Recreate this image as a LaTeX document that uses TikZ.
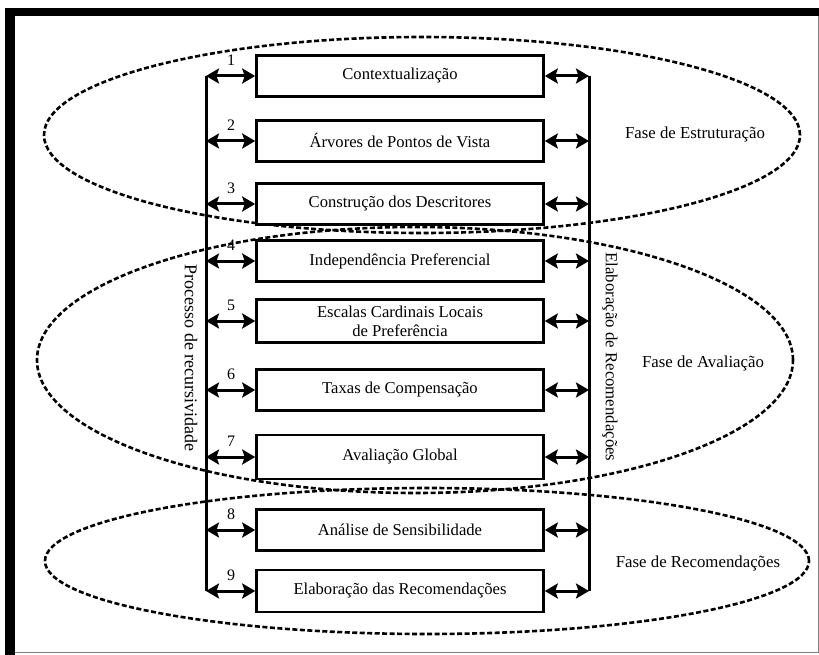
\documentclass[tikz,border=0pt]{standalone}
\usepackage{fontspec}
\setmainfont{Liberation Serif}
\usetikzlibrary{arrows.meta,shapes.geometric}
\begin{document}
\begin{tikzpicture}[x=1pt,y=-1pt,
  stepbox/.style={draw,line width=2.6pt,minimum width=287pt,minimum height=41pt,
    inner sep=0pt,font=\fontsize{16.6}{19}\selectfont,align=center},
  phase/.style={draw,ellipse,inner sep=0pt,line width=2.6pt,
    dash pattern=on 5pt off 2.5pt},
  phaselabel/.style={font=\fontsize{16.8}{19}\selectfont},
  link/.style={line width=3pt,{Stealth[length=13pt,width=15pt,inset=2.5pt]}-{Stealth[length=13pt,width=15pt,inset=2.5pt]}},
  rail/.style={line width=3pt},
  num/.style={font=\fontsize{16}{18}\selectfont,inner sep=0pt},
  sidetext/.style={rotate=-90,font=\fontsize{16.8}{19}\selectfont}]
\useasboundingbox (0,0) rectangle (819,655);
% frame
\fill[black] (5,8) rectangle (819,16);
\fill[black] (5,8) rectangle (15,655);
\draw[gray,line width=1pt] (15,652) -- (819,652);
\draw[gray,line width=1pt] (818,16) -- (818,652);

% phase ellipses
\node[phase,minimum width=756pt,minimum height=196pt] (e1) at (422,135) {};
\node[phase,minimum width=756pt,minimum height=266pt] (e2) at (415,360) {};
\node[phase,minimum width=764pt,minimum height=146pt] (e3) at (427,561) {};

\node[phaselabel] (f1) at (695,134) {Fase de Estruturação};
\node[phaselabel] (f2) at (703,363) {Fase de Avaliação};
\node[phaselabel] (f3) at (698,563) {Fase de Recomendações};

% steps
\node[stepbox,fill=white] (b1) at (400,76) {Contextualização};
\node[stepbox,fill=white] (b2) at (400,141) {Árvores de Pontos de Vista};
\node[stepbox,fill=white] (b3) at (400,204) {Construção dos Descritores};
\node[stepbox,fill=white] (b4) at (400,261) {Independência Preferencial};
\node[stepbox,fill=white,minimum height=43pt] (b5) at (400,321) {Escalas Cardinais Locais\\de Preferência};
\node[stepbox,fill=white] (b6) at (400,390) {Taxas de Compensação};
\node[stepbox,fill=white,minimum height=44pt] (b7) at (400,457) {Avaliação Global};
\node[stepbox,fill=white] (b8) at (400,530) {Análise de Sensibilidade};
\node[stepbox,fill=white,minimum height=42pt] (b9) at (400,591) {Elaboração das Recomendações};

% rails
\coordinate (L) at (206,0);
\coordinate (R) at (589,0);
\draw[rail] (b1.west -| L) -- (b9.west -| L);
\draw[rail] (b1.east -| R) -- (b9.east -| R);

\foreach \i in {1,...,9}{
  \draw[link] (b\i.west -| L) -- (b\i.west);
  \draw[link] (b\i.east) -- (b\i.east -| R);
  \node[num] (n\i) at ([xshift=-24pt,yshift=16pt]b\i.west) {\i};
}

\node[sidetext,font=\fontsize{18}{20}\selectfont] (pr) at (191,358) {Processo de recursividade};
\node[sidetext] (er) at (610,357) {Elaboração de Recomendações};
\end{tikzpicture}
\end{document}
